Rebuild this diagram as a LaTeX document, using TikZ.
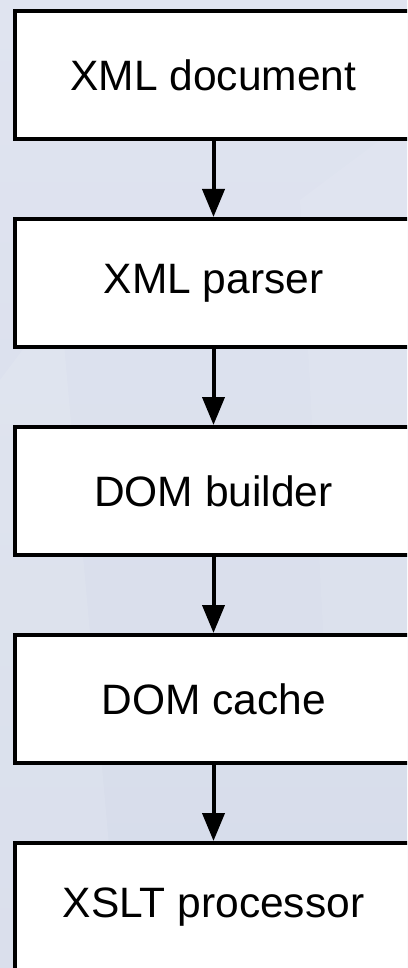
\documentclass[tikz,border=0pt]{standalone}
\usepackage{fontspec}
\setmainfont{Liberation Sans}
\usetikzlibrary{arrows.meta}

\definecolor{bgtop}{RGB}{224,228,240}
\definecolor{bgbot}{RGB}{214,220,234}

\tikzset{
  stagebox/.style={draw=black, line width=4pt, fill=white, rectangle,
    minimum width=398pt, minimum height=128pt, inner sep=0pt,
    font=\fontsize{42.5}{50}\selectfont},
  flow/.style={line width=4pt, -{Triangle[length=28pt,width=22pt]}},
}

\begin{document}
\begin{tikzpicture}[x=1pt, y=-1pt]
  % canvas and background
  \useasboundingbox (0,0) rectangle (407,968);
  \clip (0,0) rectangle (407,968);
  \shade[top color=bgtop, bottom color=bgbot] (0,0) rectangle (407,968);
  % faint light streaks in the background
  \fill[white, opacity=0.10] (0,380) -- (60,300) -- (120,968) -- (0,968) -- cycle;
  \fill[white, opacity=0.07] (300,200) -- (407,120) -- (407,700) -- (330,760) -- cycle;

  % processing stages
  \node[stagebox] (doc)    at (213.5, 75)  {XML document};
  \node[stagebox] (parser) at (213.5, 283) {XML parser};
  \node[stagebox] (dom)    at (213.5, 491) {DOM builder};
  \node[stagebox] (cache)  at (213.5, 699) {DOM cache};
  \node[stagebox] (xslt)   at (213.5, 907) {XSLT processor};

  % connectors
  \draw[flow] (doc)    -- (parser);
  \draw[flow] (parser) -- (dom);
  \draw[flow] (dom)    -- (cache);
  \draw[flow] (cache)  -- (xslt);
\end{tikzpicture}
\end{document}
